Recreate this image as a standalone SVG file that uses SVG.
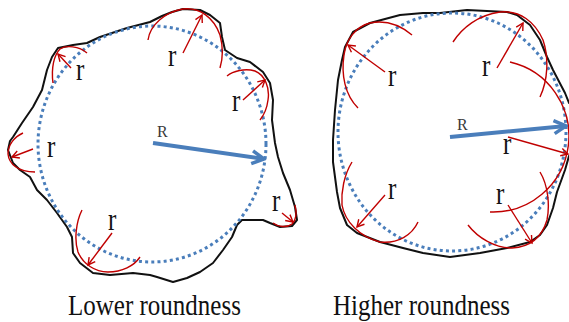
<svg xmlns="http://www.w3.org/2000/svg" width="569" height="322" viewBox="0 0 569 322">
<defs>
<style>
.outline{fill:none;stroke:#111;stroke-width:2;stroke-linejoin:round;stroke-linecap:round}
.dots{fill:none;stroke:#4a7ebb;stroke-width:3;stroke-dasharray:3 3.2}
.arc{fill:none;stroke:#c00000;stroke-width:1.4}
.rad{fill:none;stroke:#c00000;stroke-width:1.4;marker-end:url(#rh)}
.big{fill:none;stroke:#4a7ebb;stroke-width:4;marker-end:url(#bh)}
.r{font-family:"Liberation Serif","Times New Roman",serif;font-size:25px;fill:#111}
.R{font-family:"Liberation Serif","Times New Roman",serif;font-size:16px;fill:#3a3a3a}
.cap{font-family:"Liberation Serif","Times New Roman",serif;font-size:25px;fill:#111}
</style>
<marker id="rh" viewBox="-10 -6 12 12" markerWidth="12" markerHeight="12" refX="0" refY="0" markerUnits="userSpaceOnUse" orient="auto">
<path d="M-7,-3.8 L0,0 L-7,3.8" fill="none" stroke="#c00000" stroke-width="1.4"/>
</marker>
<marker id="bh" viewBox="-16 -9 18 18" markerWidth="18" markerHeight="18" refX="0" refY="0" markerUnits="userSpaceOnUse" orient="auto">
<path d="M-12,-6.5 L0,0 L-12,6.5" fill="none" stroke="#4a7ebb" stroke-width="3.5" stroke-linejoin="miter"/>
</marker>
</defs>
<rect width="569" height="322" fill="#fff"/>

<g id="lower">
<path class="outline" d="M150,22 L162,16 L172,12 L183,9 L200,10 L210,15 L220,23 L222,37 L225,50 L237,58 L250,62 L263,72 L270,83 L273,100 L272,120 L275,143 L278,157 L283,173 L290,190 L295,207 L297,220 L292,226 L280,227 L270,223 L263,220 L242,220 L237,225 L232,237 L223,250 L213,263 L200,272 L187,278 L173,282 L157,277 L150,275 L133,273 L110,275 L93,273 L80,263 L73,253 L72,237 L67,227 L57,213 L47,200 L37,190 L30,177 L20,170 L13,163 L8,150 L10,141 L13,137 L22,123 L33,107 L42,90 L47,70 L52,57 L58,48 L73,45 L87,43 L100,37 L127,28 Z"/>
<ellipse class="dots" cx="152" cy="144" rx="114" ry="118"/>
<path class="arc" d="M53,83 C51,68 54,55 60,49 C66,45 79,46 87,53"/>
<path class="arc" d="M148,40 C150,25 165,12 183,9 C200,7 214,18 220,35 C223,46 223,58 220,68"/>
<path class="arc" d="M227,76 C233,71 245,68 255,71 C265,75 270,88 268,100 C267,108 264,115 260,120"/>
<path class="arc" d="M23,133 C14,137 8,145 8,154 C9,164 18,172 35,172"/>
<path class="arc" d="M82,210 C76,222 74,240 78,252 C83,264 95,272 108,272 C122,272 134,266 140,257"/>
<path class="arc" d="M295,205 C297,213 296,220 292,224 C287,228 278,227 273,223"/>
<path class="rad" d="M71,68 L58,54"/>
<path class="rad" d="M183,53 L202,15"/>
<path class="rad" d="M243,100 L265,80"/>
<path class="rad" d="M33,149 L12,157"/>
<path class="rad" d="M112,233 L88,265"/>
<path class="rad" d="M282,213 L293,222"/>
<path class="big" d="M153,143 L264,159"/>
<text class="R" transform="translate(157,137) scale(1,1.1)">R</text>
<text class="r" transform="translate(76,80) scale(1,1.25)">r</text>
<text class="r" transform="translate(168,66) scale(1,1.25)">r</text>
<text class="r" transform="translate(232,111) scale(1,1.25)">r</text>
<text class="r" transform="translate(47,157) scale(1,1.25)">r</text>
<text class="r" transform="translate(108,230) scale(1,1.25)">r</text>
<text class="r" transform="translate(272,211) scale(1,1.25)">r</text>
<text class="cap" transform="translate(68,315) scale(1,1.15)">Lower roundness</text>
</g>

<g id="higher">
<path class="outline" d="M370,23 L353,32 L345,47 L342,60 L338,80 L335,110 L333,140 L333,162 L337,192 L340,208 L347,225 L357,233 L380,242 L403,248 L423,253 L450,257 L480,253 L507,248 L530,242 L540,235 L547,225 L553,208 L557,192 L565,170 L569,156 L573,150 L573,105 L569,103 L565,93 L553,70 L547,57 L540,40 L530,25 L517,15 L507,12 L467,10 L440,13 L423,13 L400,15 Z"/>
<ellipse class="dots" cx="452" cy="132" rx="114" ry="119"/>
<path class="arc" d="M412,35 C400,25 385,20 370,23 C355,27 346,40 344,55 C341,75 345,95 358,108"/>
<path class="arc" d="M453,42 C462,28 478,15 500,12 C520,10 535,22 543,40 C549,58 548,80 540,97"/>
<path class="arc" d="M510,62 A76,76 0 0 1 490,212"/>
<path class="arc" d="M540,172 C548,185 550,205 547,220 C542,237 530,247 512,248 C495,248 478,238 468,225"/>
<path class="arc" d="M352,162 C344,175 341,192 342,205 C345,222 360,237 380,242 C398,244 412,235 418,222"/>
<path class="rad" d="M385,72 L348,45"/>
<path class="rad" d="M497,68 L523,23"/>
<path class="rad" d="M508,137 L568,154"/>
<path class="rad" d="M508,205 L532,243"/>
<path class="rad" d="M385,195 L357,227"/>
<path class="big" d="M450,137 L566,126"/>
<text class="R" transform="translate(457,130) scale(1,1.1)">R</text>
<text class="r" transform="translate(388,86) scale(1,1.25)">r</text>
<text class="r" transform="translate(482,76) scale(1,1.25)">r</text>
<text class="r" transform="translate(503,154) scale(1,1.25)">r</text>
<text class="r" transform="translate(496,204) scale(1,1.25)">r</text>
<text class="r" transform="translate(388,199) scale(1,1.25)">r</text>
<text class="cap" transform="translate(333,315) scale(1,1.15)">Higher roundness</text>
</g>
</svg>
